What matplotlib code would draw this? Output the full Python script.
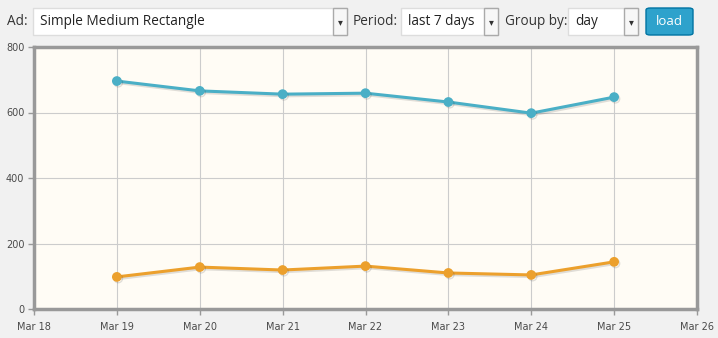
import matplotlib
matplotlib.use("Agg")
import matplotlib.pyplot as plt
import matplotlib.patheffects as pe
from matplotlib.patches import Rectangle, FancyBboxPatch

# data
days = [19, 20, 21, 22, 23, 24, 25]
impressions = [696, 666, 656, 659, 632, 598, 647]
clicks = [98, 128, 119, 131, 110, 104, 144]
x_ticks = [18, 19, 20, 21, 22, 23, 24, 25, 26]
x_labels = ["Mar %d" % d for d in x_ticks]
y_ticks = [0, 200, 400, 600, 800]

W, H = 718, 338
fig = plt.figure(figsize=(W / 100, H / 100), dpi=100)
fig.patch.set_facecolor("#f1f1f1")


def px(x, y):
    return x / W, 1 - y / H


# --- top form controls ---
ctrl_font = "Open Sans"


def select_box(x0, x1, label):
    y0, y1 = 8, 35
    fig.patches.append(Rectangle(px(x0, y1), (x1 - x0) / W, (y1 - y0) / H,
                                 transform=fig.transFigure, facecolor="white",
                                 edgecolor="#dddddd", lw=1))
    fig.patches.append(Rectangle(px(x1 - 14, y1), 14 / W, (y1 - y0) / H,
                                 transform=fig.transFigure, facecolor="#f7f7f7",
                                 edgecolor="#aaaaaa", lw=1))
    fig.text(*px(x1 - 7, 22), "▾", ha="center", va="center", fontsize=7, color="#333333")
    fig.text(*px(x0 + 7, 21.5), label, ha="left", va="center", fontsize=9.8,
             family=ctrl_font, color="#222222")


fig.text(*px(7, 21.5), "Ad:", ha="left", va="center", fontsize=9.8, family=ctrl_font, color="#333333")
select_box(33, 347, "Simple Medium Rectangle")
fig.text(*px(353, 21.5), "Period:", ha="left", va="center", fontsize=9.8, family=ctrl_font, color="#333333")
select_box(401, 498, "last 7 days")
fig.text(*px(505, 21.5), "Group by:", ha="left", va="center", fontsize=9.8, family=ctrl_font, color="#333333")
select_box(568, 638, "day")

btn = FancyBboxPatch(px(646, 35), 47 / W, 27 / H, boxstyle="round,pad=0,rounding_size=0.006",
                     transform=fig.transFigure, facecolor="#2ea2cc", edgecolor="#0074a2", lw=1)
fig.patches.append(btn)
fig.text(*px(669.5, 21.5), "load", ha="center", va="center", fontsize=9.5,
         family=ctrl_font, color="white")

# --- chart ---
ax = fig.add_axes([34 / W, 1 - 309 / H, (697 - 34) / W, (309 - 47) / H])
ax.set_facecolor("#fffcf5")

shadow = [pe.SimpleLineShadow(offset=(1.0, -1.2), shadow_color="#000000", alpha=0.12),
          pe.Normal()]
ax.plot(days, impressions, color="#4aafc6", lw=2.2, marker="o", ms=6,
        path_effects=shadow, zorder=3)
ax.plot(days, clicks, color="#eca02c", lw=2.2, marker="o", ms=6,
        path_effects=shadow, zorder=3)

ax.set_xlim(18, 26)
ax.set_ylim(0, 800)
ax.set_xticks(x_ticks)
ax.set_xticklabels(x_labels)
ax.set_yticks(y_ticks)
ax.grid(True, color="#cccccc", lw=0.8)
ax.set_axisbelow(True)

for side in ax.spines.values():
    side.set_color("#999999")
    side.set_linewidth(2.5)

ax.tick_params(axis="both", colors="#999999", length=4, width=1,
               labelcolor="#4a4a4a", labelsize=7)
ax.tick_params(axis="x", pad=5)
ax.tick_params(axis="y", pad=3)

fig.savefig("out.png", dpi=100, facecolor=fig.get_facecolor())
